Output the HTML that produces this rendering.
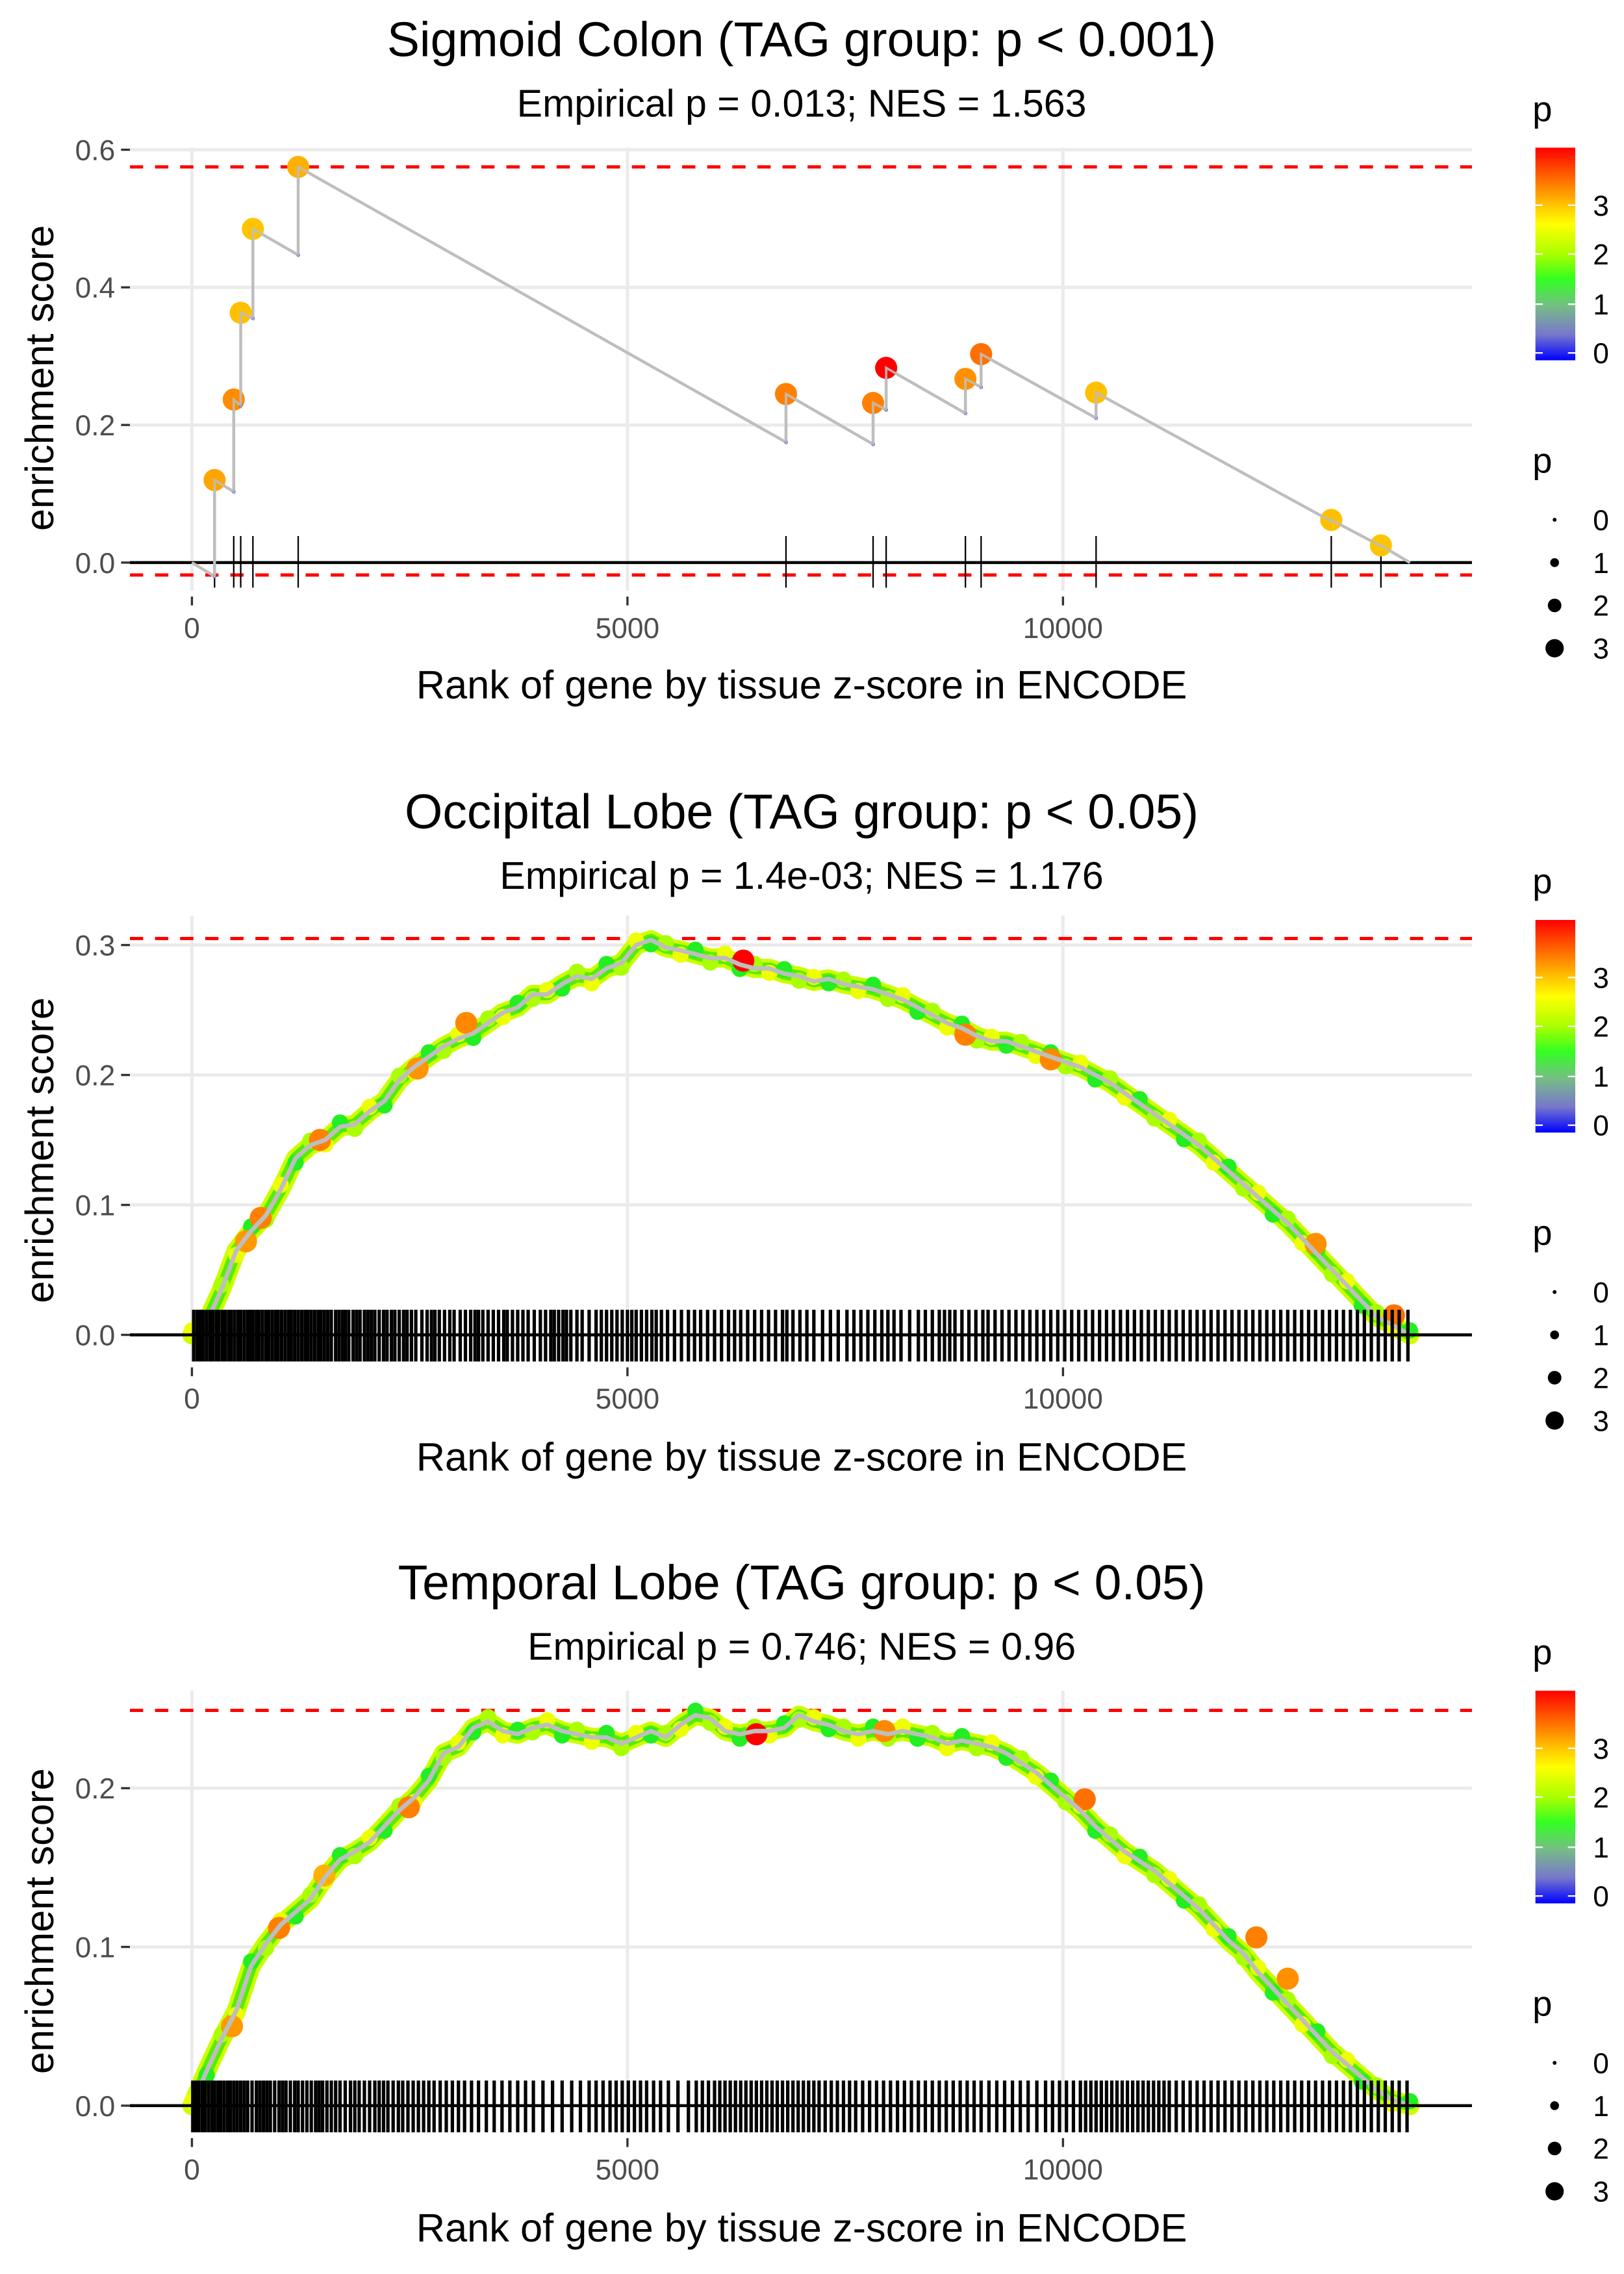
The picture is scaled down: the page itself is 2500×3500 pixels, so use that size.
<!DOCTYPE html>
<html><head><meta charset="utf-8">
<style>
html,body{margin:0;padding:0;background:#fff;}
svg{display:block;font-family:"Liberation Sans",sans-serif;}
</style></head>
<body>
<svg id="chart" xmlns="http://www.w3.org/2000/svg" width="2500" height="3500" viewBox="0 0 1100 1540">
<defs>
<linearGradient id="pgrad" x1="0" y1="0" x2="0" y2="1">
<stop offset="0" stop-color="#ff0000"/>
<stop offset="0.14" stop-color="#ff6600"/>
<stop offset="0.27" stop-color="#ffc400"/>
<stop offset="0.36" stop-color="#ffff00"/>
<stop offset="0.5" stop-color="#aaff00"/>
<stop offset="0.62" stop-color="#33ff22"/>
<stop offset="0.75" stop-color="#77bb88"/>
<stop offset="0.88" stop-color="#7777cc"/>
<stop offset="1" stop-color="#0000ff"/>
</linearGradient>
</defs>
</svg>
<script>
// ---------- Panel 1 (Sigmoid Colon) data ----------
const p1HitRanks = [260, 480, 560, 700, 1220, 6820, 7820, 7970, 8880, 9060, 10380, 13080, 13650];
const p1PeakES   = [0.120, 0.237, 0.363, 0.485, 0.575, 0.245, 0.232, 0.283, 0.267, 0.303, 0.247, 0.062, 0.025];
const p1TroughES = [-0.020, 0.103, 0.228, 0.355, 0.447, 0.175, 0.172, 0.222, 0.217, 0.255, 0.210, 0.060, 0.024];
const p1HitColor = ["#ffa500", "#ff8c00", "#ffc000", "#ffc400", "#ffb000", "#ff8000", "#ff8000", "#ff0000", "#ff9000", "#ff7000", "#ffc000", "#ffc000", "#ffc400"];
const p1EndRank = 13983;
const p1Max = 0.575, p1Min = -0.018;

// ---------- Panel 2 (Occipital Lobe) data ----------
const p2Ranks = [0,170,340,510,680,850,1020,1190,1360,1530,1700,1870,2040,2210,2380,2550,2720,2890,3060,3230,3400,3570,3740,3910,4080,4250,4420,4590,4760,4930,5100,5270,5440,5610,5780,5950,6120,6290,6460,6630,6800,6970,7140,7310,7480,7650,7820,7990,8160,8330,8500,8670,8840,9010,9180,9350,9520,9690,9860,10030,10200,10370,10540,10710,10880,11050,11220,11390,11560,11730,11900,12070,12240,12410,12580,12750,12920,13090,13260,13430,13600,13770,13983];
const p2ES = [0.000,0.010,0.035,0.065,0.080,0.092,0.112,0.136,0.146,0.150,0.160,0.162,0.172,0.180,0.196,0.206,0.214,0.222,0.228,0.232,0.240,0.248,0.252,0.262,0.262,0.270,0.276,0.274,0.282,0.286,0.300,0.304,0.298,0.296,0.293,0.290,0.290,0.285,0.282,0.282,0.278,0.276,0.272,0.274,0.270,0.268,0.266,0.262,0.258,0.252,0.246,0.240,0.236,0.230,0.226,0.226,0.222,0.218,0.214,0.210,0.206,0.200,0.194,0.186,0.178,0.170,0.162,0.154,0.146,0.136,0.126,0.116,0.106,0.096,0.086,0.074,0.062,0.050,0.038,0.026,0.014,0.008,0.000];
const p2HotRanks = [620, 790, 1470, 2590, 3150, 6330, 8880, 9860, 12900, 13800];
const p2HotES    = [0.072, 0.090, 0.150, 0.205, 0.240, 0.288, 0.231, 0.212, 0.070, 0.015];
const p2HotColor = ["#ff9900", "#ff8000", "#ff8000", "#ff9500", "#ff8800", "#ff0000", "#ff8000", "#ff8800", "#ff9000", "#ff7000"];
const p2Rug = [20,60,95,130,170,210,240,280,310,350,380,420,450,490,530,560,600,640,670,700,740,770,810,850,880,920,960,990,1030,1070,1110,1140,1180,1220,1260,1300,1330,1370,1410,1450,1480,1520,1560,1600,1650,1690,1730,1760,1800,1850,1890,1930,1980,2020,2060,2100,2150,2200,2240,2290,2330,2380,2430,2470,2520,2570,2640,2700,2750,2790,2840,2900,2960,3010,3080,3140,3200,3250,3290,3340,3400,3460,3520,3580,3620,3680,3740,3800,3860,3930,4000,4060,4120,4160,4210,4260,4300,4350,4420,4480,4560,4640,4700,4760,4820,4880,4940,5000,5050,5100,5160,5220,5280,5330,5390,5460,5540,5620,5700,5770,5840,5920,6000,6080,6160,6230,6300,6380,6460,6540,6620,6700,6780,6830,6900,6980,7060,7140,7240,7330,7420,7520,7600,7680,7760,7840,7920,7990,8060,8140,8240,8340,8420,8500,8580,8640,8700,8760,8840,8920,9000,9080,9140,9220,9300,9380,9460,9540,9620,9700,9780,9860,9940,10020,10100,10180,10260,10340,10420,10500,10580,10660,10740,10820,10900,10980,11060,11140,11220,11300,11380,11460,11540,11620,11700,11780,11860,11940,12020,12100,12180,12260,12340,12420,12500,12580,12660,12740,12820,12900,12980,13060,13140,13220,13300,13380,13460,13540,13620,13700,13780,13860,13960];
const p2Max = 0.305;

// ---------- Panel 3 (Temporal Lobe) data ----------
const p3Ranks = [0,170,340,510,680,850,1020,1190,1360,1530,1700,1870,2040,2210,2380,2550,2720,2890,3060,3230,3400,3570,3740,3910,4080,4250,4420,4590,4760,4930,5100,5270,5440,5610,5780,5950,6120,6290,6460,6630,6800,6970,7140,7310,7480,7650,7820,7990,8160,8330,8500,8670,8840,9010,9180,9350,9520,9690,9860,10030,10200,10370,10540,10710,10880,11050,11220,11390,11560,11730,11900,12070,12240,12410,12580,12750,12920,13090,13260,13430,13600,13770,13983];
const p3ES = [0.000,0.022,0.042,0.060,0.088,0.102,0.114,0.122,0.130,0.144,0.155,0.160,0.166,0.176,0.186,0.194,0.205,0.222,0.226,0.238,0.242,0.236,0.234,0.238,0.240,0.236,0.234,0.232,0.232,0.228,0.232,0.236,0.232,0.240,0.246,0.244,0.236,0.234,0.236,0.236,0.238,0.246,0.242,0.240,0.236,0.234,0.236,0.234,0.236,0.234,0.232,0.228,0.230,0.228,0.226,0.222,0.216,0.210,0.202,0.194,0.186,0.176,0.168,0.160,0.154,0.148,0.140,0.132,0.124,0.114,0.104,0.096,0.084,0.074,0.064,0.054,0.044,0.034,0.026,0.018,0.010,0.004,0.000];
const p3HotRanks = [460, 1000, 1520, 2490, 6480, 7950, 10250, 12220, 12580];
const p3HotES    = [0.050, 0.112, 0.145, 0.188, 0.234, 0.236, 0.193, 0.106, 0.080];
const p3HotColor = ["#ff9900", "#ff8000", "#ffb000", "#ff8000", "#ff0000", "#ff8800", "#ff7000", "#ff8000", "#ff9000"];
const p3Rug = [10,45,80,120,150,190,230,260,300,330,370,410,440,480,520,560,600,640,690,740,780,820,860,900,950,1000,1040,1080,1130,1180,1220,1270,1320,1370,1420,1460,1500,1550,1600,1650,1700,1760,1820,1870,1920,1980,2040,2100,2150,2200,2250,2310,2370,2420,2480,2540,2600,2660,2720,2780,2850,2920,2990,3060,3130,3210,3290,3380,3470,3560,3650,3740,3830,3920,4030,4140,4250,4360,4460,4560,4640,4720,4800,4870,4940,5010,5080,5150,5220,5300,5380,5470,5580,5700,5790,5860,5930,6000,6060,6120,6180,6240,6300,6360,6420,6480,6540,6600,6660,6720,6780,6840,6900,6960,7020,7080,7140,7200,7270,7340,7410,7480,7550,7620,7700,7780,7860,7940,8020,8100,8180,8260,8340,8420,8500,8580,8660,8740,8820,8900,8980,9060,9150,9240,9330,9420,9510,9600,9700,9800,9880,9960,10040,10120,10200,10260,10320,10380,10440,10500,10560,10620,10680,10740,10800,10860,10920,10980,11040,11100,11160,11220,11300,11380,11460,11540,11620,11700,11780,11860,11940,12020,12100,12180,12260,12340,12420,12500,12580,12660,12740,12820,12900,12980,13060,13140,13220,13300,13380,13460,13540,13620,13700,13780,13860,13950];
const p3Max = 0.249;

// ---------- rendering ----------
const NS = "http://www.w3.org/2000/svg";
const svg = document.getElementById("chart");
function mk(tag, attrs, parent){
  const e = document.createElementNS(NS, tag);
  for (const k in attrs) e.setAttribute(k, attrs[k]);
  (parent || svg).appendChild(e);
  return e;
}
function txt(str, attrs, parent){ const t = mk("text", attrs, parent); t.textContent = str; return t; }

const PX0 = 88, PX1 = 997;
const xScale = r => 130 + r * 0.059;

function frame(g, off, y, yTicks, yTickLabels, top, bottom, title, subtitle){
  let t = txt(title, {x:543, y:off+38, "font-size":33, "text-anchor":"middle", fill:"#000"}, g);
  
  
  t = txt(subtitle, {x:543, y:off+79, "font-size":26, "text-anchor":"middle", fill:"#000"}, g);
  
  
  yTicks.forEach(v => {
    const l = mk("line", {x1:PX0, x2:PX1, y1:y(v), y2:y(v), stroke:"#ebebeb", "stroke-width":2.2}, g);
    
    
  });
  [0, 5000, 10000].forEach(v => {
    const l = mk("line", {x1:xScale(v), x2:xScale(v), y1:top, y2:bottom, stroke:"#ebebeb", "stroke-width":2.2}, g);
    
    
  });
  yTicks.forEach((v, i) => {
    const tk = mk("line", {x1:82, x2:88, y1:y(v), y2:y(v), stroke:"#333", "stroke-width":1.5}, g);
    
    
    const lb = txt(yTickLabels[i], {x:78, y:y(v)+7, "font-size":19.5, "text-anchor":"end", fill:"#4d4d4d"}, g);
    
    
  });
  [0, 5000, 10000].forEach(v => {
    const tk = mk("line", {x1:xScale(v), x2:xScale(v), y1:bottom+4, y2:bottom+10, stroke:"#333", "stroke-width":1.5}, g);
    
    
    const lb = txt(String(v), {x:xScale(v), y:bottom+32, "font-size":19.5, "text-anchor":"middle", fill:"#4d4d4d"}, g);
    
    
  });
  t = txt("Rank of gene by tissue z-score in ENCODE", {x:543, y:off+473, "font-size":27, "text-anchor":"middle", fill:"#000"}, g);
  
  
  t = txt("enrichment score", {x:0, y:0, "font-size":27, "text-anchor":"middle", fill:"#000", transform:"translate(36," + (off+256) + ") rotate(-90)"}, g);
  
  
}

function legends(g, off){
  let t = txt("p", {x:1038, y:off+82, "font-size":24, fill:"#000"}, g);
  
  
  const bar = mk("rect", {x:1040, y:off+100, width:27, height:144, fill:"url(#pgrad)"}, g);
  
  
  const labs = ["3", "2", "1", "0"], ys = [139, 172, 206, 239];
  labs.forEach((l, i) => {
    mk("line", {x1:1040, x2:1045, y1:off+ys[i], y2:off+ys[i], stroke:"#fff", "stroke-width":1}, g);
    mk("line", {x1:1062, x2:1067, y1:off+ys[i], y2:off+ys[i], stroke:"#fff", "stroke-width":1}, g);
    const lb = txt(l, {x:1079, y:off+ys[i]+7, "font-size":19.5, fill:"#000"}, g);
    
    
  });
  t = txt("p", {x:1038, y:off+320, "font-size":24, fill:"#000"}, g);
  
  
  const sy = [352, 381, 410, 439], sr = [1.3, 3, 4.6, 6.2];
  sy.forEach((yy, i) => {
    const c = mk("circle", {cx:1053, cy:off+yy, r:sr[i], fill:"#000"}, g);
    
    
    const lb = txt(String(i), {x:1079, y:off+yy+7, "font-size":19.5, fill:"#000"}, g);
    
    
  });
}

function baseline(g, y){
  const l = mk("line", {x1:PX0, x2:PX1, y1:y(0), y2:y(0), stroke:"#000", "stroke-width":2}, g);
  
  
}
function dashed(g, yy){
  const l = mk("line", {x1:PX0, x2:PX1, y1:yy, y2:yy, stroke:"#ff0000", "stroke-width":2.2, "stroke-dasharray":"9 8"}, g);
  
  
}
function rug(g, ranks, y0, y1, w){
  ranks.forEach(r => {
    const l = mk("line", {x1:xScale(r), x2:xScale(r), y1:y0, y2:y1, stroke:"#000", "stroke-width":w}, g);
    
    
  });
}

// ---- Panel 1 ----
(function(){
  const off = 0;
  const y = v => 381 - v * 466;
  const g = mk("g", {});
  
  
  frame(g, off, y, [0, 0.2, 0.4, 0.6], ["0.0", "0.2", "0.4", "0.6"], 100, 400,
        "Sigmoid Colon (TAG group: p < 0.001)", "Empirical p = 0.013; NES = 1.563");
  dashed(g, y(p1Max)); dashed(g, y(p1Min));
  baseline(g, y);
  rug(g, p1HitRanks, 363, 398, 1);
  let d = "M" + xScale(0) + "," + y(0);
  p1HitRanks.forEach((r, i) => {
    d += " L" + xScale(r) + "," + y(p1TroughES[i]) + " L" + xScale(r) + "," + y(p1PeakES[i]);
  });
  d += " L" + xScale(p1EndRank) + "," + y(0);
  const path = mk("path", {d:d, fill:"none", stroke:"#bebebe", "stroke-width":2}, g);
  
  
  p1HitRanks.forEach((r, i) => {
    const s = mk("circle", {cx:xScale(r), cy:y(p1TroughES[i]), r:1.2, fill:"#3333ff"}, g);
    
    
    const c = mk("circle", {cx:xScale(r), cy:y(p1PeakES[i]), r:7.5, fill:p1HitColor[i]}, g);
    
    
  });
  mk("path", {d:d, fill:"none", stroke:"#bebebe", "stroke-width":1.6, opacity:0.9}, g);
  legends(g, off);
})();

function densePanel(name, off, y, ticks, tickLabs, top, bottom, title, sub, ranks, es, hotR, hotE, hotC, rugR, maxES){
  const g = mk("g", {});
  
  
  frame(g, off, y, ticks, tickLabs, top, bottom, title, sub);
  dashed(g, y(maxES));
  let d = "";
  ranks.forEach((r, i) => { d += (i ? " L" : "M") + xScale(r) + "," + y(es[i]); });
  const band1 = mk("path", {d:d, fill:"none", stroke:"#ccff00", "stroke-width":13, "stroke-linejoin":"round", "stroke-linecap":"round"}, g);
  
  
  mk("path", {d:d, fill:"none", stroke:"#55ee00", "stroke-width":8, "stroke-linejoin":"round"}, g);
  ranks.forEach((r, i) => {
    const c = mk("circle", {cx:xScale(r), cy:y(es[i]) + (i % 2 ? 3 : -3), r:5.5, fill:(i % 3 === 0 ? "#eeff00" : (i % 3 === 1 ? "#22ee22" : "#aaff00"))}, g);
    
    
  });
  hotR.forEach((r, i) => {
    const c = mk("circle", {cx:xScale(r), cy:y(hotE[i]), r:7.5, fill:hotC[i]}, g);
    
    
  });
  const line = mk("path", {d:d, fill:"none", stroke:"#bebebe", "stroke-width":3, "stroke-linejoin":"round"}, g);
  
  
  baseline(g, y);
  rug(g, rugR, y(0) - 17, y(0) + 18, 2.3);
  legends(g, off);
}

densePanel("occipital-lobe-panel", 523, v => 904 - v * 880, [0, 0.1, 0.2, 0.3], ["0.0", "0.1", "0.2", "0.3"], 620, 922,
  "Occipital Lobe (TAG group: p < 0.05)", "Empirical p = 1.4e-03; NES = 1.176",
  p2Ranks, p2ES, p2HotRanks, p2HotES, p2HotColor, p2Rug, p2Max);

densePanel("temporal-lobe-panel", 1045, v => 1426 - v * 1075, [0, 0.1, 0.2], ["0.0", "0.1", "0.2"], 1145, 1444,
  "Temporal Lobe (TAG group: p < 0.05)", "Empirical p = 0.746; NES = 0.96",
  p3Ranks, p3ES, p3HotRanks, p3HotES, p3HotColor, p3Rug, p3Max);
</script>
</body></html>
